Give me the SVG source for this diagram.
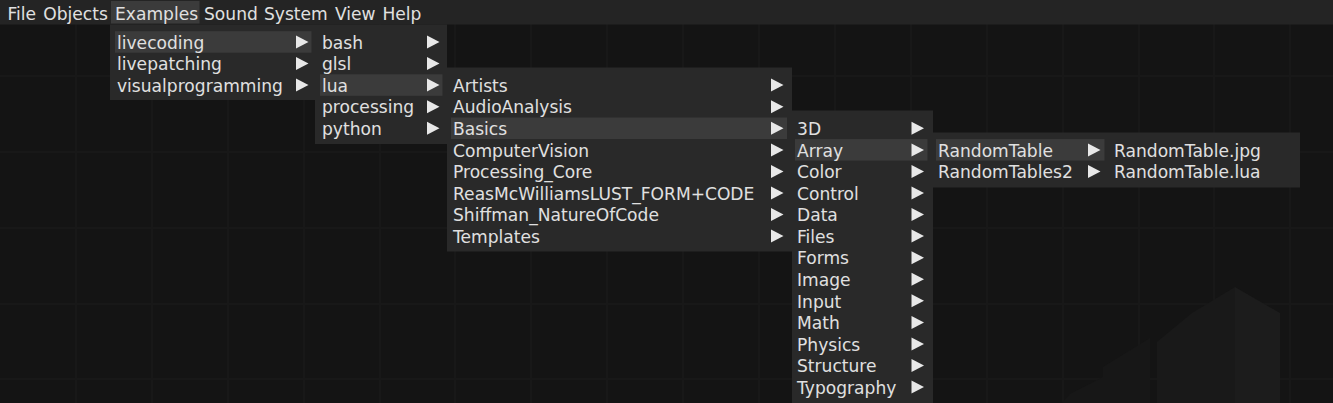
<svg xmlns="http://www.w3.org/2000/svg" width="1333" height="403" viewBox="0 0 1333 403">
<style>
.bg{fill:#141414}
.grid{stroke:#181818;stroke-width:2}
.bar{fill:#242424}
.menu{fill:#292929}
.hl{fill:#3b3b3b}
.t{font-family:"DejaVu Sans",Verdana,sans-serif;font-size:17.1px;fill:#e0e0e0}
.arr{fill:#e8e8e8}
</style>
<defs>
<path id="tri" class="arr" d="M0 -6.5 L12.5 0 L0 6.5 Z"/>
</defs>
<rect class="bg" x="0" y="0" width="1333" height="403"/>
<g id="grid">
<path class="grid" d="M76 0V403M152 0V403M228 0V403M304 0V403M380 0V403M455 0V403M531 0V403M607 0V403M683 0V403M759 0V403M835 0V403M911 0V403M987 0V403M1063 0V403M1139 0V403M1214 0V403M1290 0V403M0 76H1333M0 152H1333M0 228H1333M0 304H1333M0 379H1333"/>
</g>
<g id="silhouette">
<polygon fill="#171717" points="1062,403 1070,394 1103,377 1103,367 1150,338 1150,403"/>
<polygon fill="#191919" points="1157,403 1157,342 1192,313 1235,287 1235,403"/>
<polygon fill="#1c1c1c" points="1235,287 1280,313 1280,403 1235,403"/>
</g>
<g id="menubar">
<rect class="bar" x="0" y="0" width="1333" height="24.5"/>
<rect class="hl" x="111" y="1" width="88.5" height="22.5"/>
<text class="t" x="7.5" y="20">File</text>
<text class="t" x="43.3" y="20">Objects</text>
<text class="t" x="115" y="20">Examples</text>
<text class="t" x="204" y="20">Sound</text>
<text class="t" x="264" y="20">System</text>
<text class="t" x="335" y="20">View</text>
<text class="t" x="382.5" y="20">Help</text>
</g>
<g id="menu-examples">
<rect class="menu" x="110" y="24.5" width="205" height="75.5"/>
<rect class="hl" x="115" y="31.2" width="196.5" height="21.5"/>
<text class="t" x="117" y="48.7">livecoding</text>
<text class="t" x="117" y="70.3">livepatching</text>
<text class="t" x="117" y="91.8">visualprogramming</text>
<use href="#tri" x="296" y="42"/>
<use href="#tri" x="296" y="63.6"/>
<use href="#tri" x="296" y="85.1"/>
</g>
<g id="menu-livecoding">
<rect class="menu" x="315" y="24.5" width="132" height="119.5"/>
<rect class="hl" x="320" y="74.3" width="122.5" height="21.5"/>
<text class="t" x="322" y="48.7">bash</text>
<text class="t" x="322" y="70.3">glsl</text>
<text class="t" x="322" y="91.8">lua</text>
<text class="t" x="322" y="113.4">processing</text>
<text class="t" x="322" y="135">python</text>
<use href="#tri" x="427" y="42"/>
<use href="#tri" x="427" y="63.6"/>
<use href="#tri" x="427" y="85.1"/>
<use href="#tri" x="427" y="106.7"/>
<use href="#tri" x="427" y="128.3"/>
</g>
<g id="menu-lua">
<rect class="menu" x="447" y="67.5" width="345" height="184"/>
<rect class="hl" x="451" y="117.5" width="336" height="21.5"/>
<text class="t" x="453" y="91.8">Artists</text>
<text class="t" x="453" y="113.4">AudioAnalysis</text>
<text class="t" x="453" y="135">Basics</text>
<text class="t" x="453" y="156.6">ComputerVision</text>
<text class="t" x="453" y="178.1">Processing_Core</text>
<text class="t" x="453" y="199.7">ReasMcWilliamsLUST_FORM+CODE</text>
<text class="t" x="453" y="221.3">Shiffman_NatureOfCode</text>
<text class="t" x="453" y="242.8">Templates</text>
<use href="#tri" x="771" y="85.1"/>
<use href="#tri" x="771" y="106.7"/>
<use href="#tri" x="771" y="128.3"/>
<use href="#tri" x="771" y="149.9"/>
<use href="#tri" x="771" y="171.4"/>
<use href="#tri" x="771" y="193"/>
<use href="#tri" x="771" y="214.6"/>
<use href="#tri" x="771" y="236.1"/>
</g>
<g id="menu-basics">
<rect class="menu" x="792" y="110.5" width="141" height="292.5"/>
<rect class="hl" x="795" y="139.1" width="132.5" height="21.5"/>
<text class="t" x="797" y="135">3D</text>
<text class="t" x="797" y="156.6">Array</text>
<text class="t" x="797" y="178.1">Color</text>
<text class="t" x="797" y="199.7">Control</text>
<text class="t" x="797" y="221.3">Data</text>
<text class="t" x="797" y="242.8">Files</text>
<text class="t" x="797" y="264.4">Forms</text>
<text class="t" x="797" y="286">Image</text>
<text class="t" x="797" y="307.5">Input</text>
<text class="t" x="797" y="329.1">Math</text>
<text class="t" x="797" y="350.7">Physics</text>
<text class="t" x="797" y="372.3">Structure</text>
<text class="t" x="797" y="393.8">Typography</text>
<use href="#tri" x="911.5" y="128.3"/>
<use href="#tri" x="911.5" y="149.9"/>
<use href="#tri" x="911.5" y="171.4"/>
<use href="#tri" x="911.5" y="193"/>
<use href="#tri" x="911.5" y="214.6"/>
<use href="#tri" x="911.5" y="236.1"/>
<use href="#tri" x="911.5" y="257.7"/>
<use href="#tri" x="911.5" y="279.3"/>
<use href="#tri" x="911.5" y="300.8"/>
<use href="#tri" x="911.5" y="322.4"/>
<use href="#tri" x="911.5" y="344"/>
<use href="#tri" x="911.5" y="365.6"/>
<use href="#tri" x="911.5" y="387.1"/>
</g>
<g id="menu-array">
<rect class="menu" x="933" y="132.5" width="174" height="55"/>
<rect class="hl" x="936" y="139.1" width="168.5" height="21.5"/>
<text class="t" x="938" y="156.6">RandomTable</text>
<text class="t" x="938" y="178.1">RandomTables2</text>
<use href="#tri" x="1088" y="149.9"/>
<use href="#tri" x="1088" y="171.4"/>
</g>
<g id="menu-randomtable">
<rect class="menu" x="1107" y="132.5" width="193" height="55"/>
<text class="t" x="1114" y="156.6">RandomTable.jpg</text>
<text class="t" x="1114" y="178.1">RandomTable.lua</text>
</g>
</svg>
